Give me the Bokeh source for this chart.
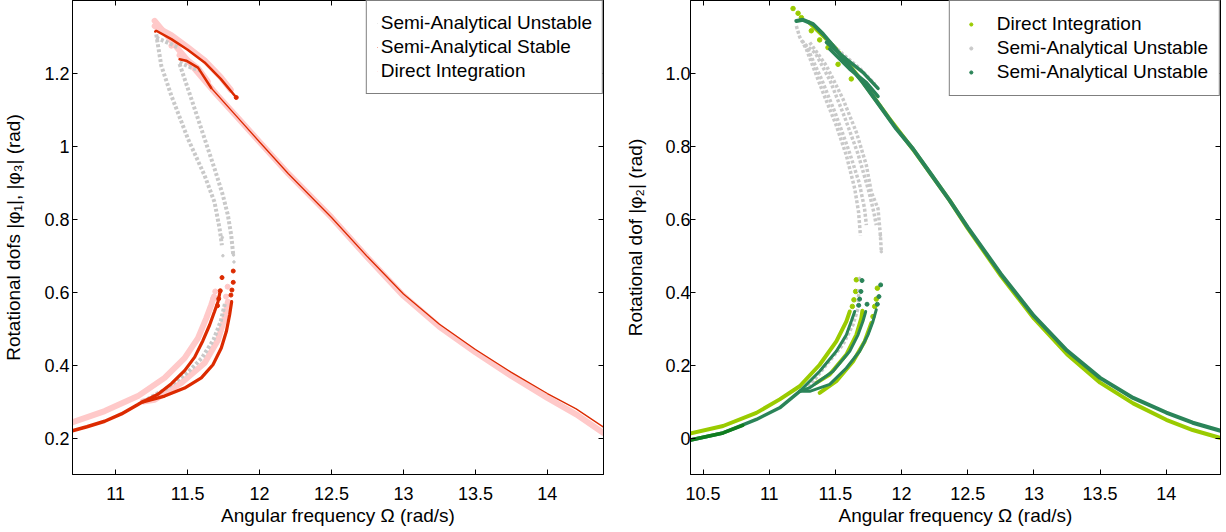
from bokeh.plotting import figure
from bokeh.layouts import row
from bokeh.models import FixedTicker, LinearAxis, Legend, LegendItem, Range1d, CustomLabelingPolicy
from bokeh.embed import file_html
from bokeh.resources import INLINE

FONT = "Liberation Sans"
PINK = "#ffc9c9"
RED = "#dc2a00"
GRAY = "#c9c9c9"
LGREEN = "#9acb00"
DGREEN = "#2a8458"
DKGREEN = "#0f7d1e"

# ---------------- Left panel data (|phi1|, |phi3|) ----------------
L_xticks = [11, 11.5, 12, 12.5, 13, 13.5, 14]
L_xlabels = ["11", "11.5", "12", "12.5", "13", "13.5", "14"]
L_yticks = [0.2, 0.4, 0.6, 0.8, 1.0, 1.2]
L_ylabels = ["0.2", "0.4", "0.6", "0.8", "1", "1.2"]

L_pink_main_x = [11.271, 11.40, 11.55, 11.70, 11.85, 12.0, 12.2, 12.5, 12.75, 13.0, 13.25, 13.5, 13.75, 14.0, 14.2, 14.39]
L_pink_main_y = [1.344, 1.283, 1.212, 1.143, 1.078, 1.012, 0.925, 0.805, 0.695, 0.59, 0.505, 0.435, 0.37, 0.31, 0.265, 0.214]
L_pink_a_x = [11.271, 11.387, 11.50, 11.618, 11.73, 11.80]
L_pink_a_y = [1.33, 1.305, 1.272, 1.236, 1.19, 1.155]
L_pink_b_x = [11.444, 11.50, 11.572, 11.64]
L_pink_b_y = [1.25, 1.236, 1.214, 1.178]
L_pink_lo_x = [10.692, 10.924, 11.155, 11.34, 11.479, 11.572, 11.63, 11.664, 11.683]
L_pink_lo_y = [0.242, 0.274, 0.315, 0.365, 0.419, 0.474, 0.529, 0.565, 0.588]
L_pink_lo2_x = [11.19, 11.271, 11.456, 11.618, 11.711, 11.757, 11.78]
L_pink_lo2_y = [0.30, 0.305, 0.351, 0.406, 0.469, 0.529, 0.574]
L_pink_dot_x = [11.678, 11.692, 11.767, 11.778, 11.387]
L_pink_dot_y = [0.582, 0.602, 0.588, 0.615, 1.276]

L_red_main_x = [11.664, 11.85, 12.0, 12.2, 12.5, 12.75, 13.0, 13.25, 13.5, 13.75, 14.0, 14.2, 14.39]
L_red_main_y = [1.16, 1.078, 1.012, 0.925, 0.805, 0.697, 0.595, 0.512, 0.443, 0.38, 0.322, 0.28, 0.23]
L_red_a_x = [11.275, 11.282, 11.387, 11.50, 11.618, 11.73, 11.838]
L_red_a_y = [1.315, 1.317, 1.294, 1.265, 1.23, 1.185, 1.134]
L_red_b_x = [11.444, 11.49, 11.572, 11.664]
L_red_b_y = [1.239, 1.235, 1.216, 1.16]
L_red_lo_x = [10.692, 10.80, 10.924, 11.04, 11.155, 11.19]
L_red_lo_y = [0.219, 0.231, 0.246, 0.266, 0.292, 0.30]
L_red_loa_x = [11.19, 11.294, 11.387, 11.479, 11.549, 11.606, 11.653, 11.687, 11.711, 11.727]
L_red_loa_y = [0.30, 0.32, 0.349, 0.385, 0.422, 0.467, 0.51, 0.547, 0.574, 0.604]
L_red_lob_x = [11.19, 11.34, 11.479, 11.595, 11.676, 11.734, 11.769, 11.792, 11.806]
L_red_lob_y = [0.299, 0.315, 0.337, 0.365, 0.401, 0.447, 0.492, 0.538, 0.574]
L_red_dot_x = [11.708, 11.716, 11.727, 11.739, 11.801, 11.808, 11.817, 11.817, 11.838]
L_red_dot_y = [0.563, 0.582, 0.604, 0.640, 0.592, 0.606, 0.627, 0.658, 1.134]

L_gray_a_x = [11.282, 11.317, 11.387, 11.502, 11.618, 11.687, 11.722, 11.738]
L_gray_a_y = [1.307, 1.221, 1.139, 1.021, 0.920, 0.847, 0.775, 0.729]
L_gray_arc_a_x = [11.282, 11.34, 11.387, 11.433]
L_gray_arc_a_y = [1.298, 1.288, 1.28, 1.271]
L_gray_b_x = [11.444, 11.479, 11.549, 11.618, 11.687, 11.745, 11.780, 11.803, 11.817]
L_gray_b_y = [1.226, 1.185, 1.103, 1.021, 0.939, 0.866, 0.811, 0.756, 0.702]
L_gray_arc_b_x = [11.444, 11.525, 11.595]
L_gray_arc_b_y = [1.23, 1.216, 1.207]
L_gray_lo_x = [11.19, 11.35, 11.50, 11.60, 11.68, 11.73, 11.76]
L_gray_lo_y = [0.300, 0.335, 0.38, 0.42, 0.47, 0.52, 0.57]
L_gray_dot_x = [11.741, 11.745, 11.819, 11.822]
L_gray_dot_y = [0.75, 0.70, 0.702, 0.683]

# ---------------- Right panel data (|phi2|) ----------------
R_xticks = [10.5, 11, 11.5, 12, 12.5, 13, 13.5, 14]
R_xlabels = ["10.5", "11", "11.5", "12", "12.5", "13", "13.5", "14"]
R_yticks = [0, 0.2, 0.4, 0.6, 0.8, 1.0]
R_ylabels = ["0", "0.2", "0.4", "0.6", "0.8", "1.0"]

R_lg_main_x = [11.3, 11.5, 11.7, 11.9, 12.1, 12.363, 12.5, 12.75, 13.0, 13.25, 13.5, 13.75, 14.0, 14.2, 14.41]
R_lg_main_y = [1.14, 1.07, 0.98, 0.88, 0.785, 0.652, 0.575, 0.445, 0.328, 0.23, 0.152, 0.095, 0.05, 0.022, 0.0]
R_lg_lo_x = [10.399, 10.651, 10.903, 11.079, 11.23, 11.381, 11.507, 11.583, 11.608]
R_lg_lo_y = [0.012, 0.033, 0.069, 0.106, 0.142, 0.201, 0.265, 0.32, 0.347]
R_lg2_x = [11.35, 11.457, 11.583, 11.658, 11.696, 11.704]
R_lg2_y = [0.15, 0.174, 0.229, 0.283, 0.329, 0.349]
R_lg3_x = [11.381, 11.507, 11.633, 11.721, 11.771]
R_lg3_y = [0.124, 0.156, 0.21, 0.265, 0.315]
R_lg_dot_x = [11.628, 11.64, 11.653, 11.658, 11.784, 11.797, 11.809, 11.817,
              11.18, 11.218, 11.243, 11.318, 11.381, 11.444, 11.52, 11.62]
R_lg_dot_y = [0.361, 0.379, 0.402, 0.434, 0.333, 0.361, 0.381, 0.411,
              1.178, 1.165, 1.153, 1.117, 1.092, 1.071, 1.025, 0.985]

R_g1_x = [11.205, 11.23, 11.28, 11.406, 11.507, 11.583, 11.646, 11.675, 11.689]
R_g1_y = [1.13, 1.10, 1.067, 0.948, 0.857, 0.775, 0.684, 0.62, 0.556]
R_g2_x = [11.25, 11.30, 11.40, 11.50, 11.60, 11.68, 11.72, 11.734]
R_g2_y = [1.09, 1.06, 0.98, 0.89, 0.79, 0.70, 0.63, 0.584]
R_g3_x = [11.27, 11.35, 11.46, 11.57, 11.67, 11.75, 11.79, 11.809]
R_g3_y = [1.08, 1.055, 0.98, 0.88, 0.78, 0.68, 0.62, 0.584]
R_g4_x = [11.306, 11.432, 11.557, 11.658, 11.734, 11.771, 11.822, 11.84, 11.847]
R_g4_y = [1.085, 1.021, 0.93, 0.839, 0.748, 0.675, 0.629, 0.556, 0.511]
R_g_up_x = [11.43, 11.55, 11.68, 11.80]
R_g_up_y = [1.095, 1.055, 1.015, 0.97]
R_g_lo_x = [11.30, 11.432, 11.557, 11.633, 11.671, 11.678]
R_g_lo_y = [0.14, 0.201, 0.256, 0.311, 0.356, 0.411]
R_g_dot_x = [11.683, 11.847, 11.84]
R_g_dot_y = [0.438, 0.511, 0.556]

R_dg_main_x = [11.205, 11.255, 11.331, 11.406, 11.482, 11.583, 11.708, 11.834, 11.96, 12.086, 12.212, 12.363,
               12.5, 12.75, 13.0, 13.25, 13.5, 13.75, 14.0, 14.2, 14.41]
R_dg_main_y = [1.144, 1.147, 1.135, 1.108, 1.076, 1.03, 0.975, 0.912, 0.848, 0.793, 0.729, 0.652,
               0.578, 0.45, 0.335, 0.24, 0.165, 0.11, 0.07, 0.042, 0.02]
R_dg_sub1_x = [11.432, 11.583, 11.708, 11.822]
R_dg_sub1_y = [1.085, 1.039, 1.003, 0.959]
R_dg_sub2_x = [11.457, 11.608, 11.734, 11.822]
R_dg_sub2_y = [1.067, 1.012, 0.975, 0.937]
R_dg_lo_x = [10.399, 10.651, 10.903, 11.079, 11.23]
R_dg_lo_y = [-0.006, 0.014, 0.051, 0.083, 0.128]
R_dk_lo_x = [10.399, 10.651, 10.8]
R_dk_lo_y = [-0.006, 0.014, 0.035]
R_dg1_x = [11.23, 11.381, 11.507, 11.583, 11.62, 11.646]
R_dg1_y = [0.128, 0.183, 0.238, 0.283, 0.32, 0.347]
R_dg2_x = [11.23, 11.306, 11.482, 11.608, 11.671, 11.708, 11.729]
R_dg2_y = [0.128, 0.138, 0.183, 0.238, 0.283, 0.32, 0.347]
R_dg3_x = [11.23, 11.306, 11.457, 11.583, 11.683, 11.746, 11.784, 11.809]
R_dg3_y = [0.128, 0.128, 0.147, 0.192, 0.238, 0.283, 0.32, 0.352]
R_dg_dot_x = [11.676, 11.683, 11.693, 11.701, 11.739, 11.817, 11.829, 11.842]
R_dg_dot_y = [0.364, 0.381, 0.402, 0.432, 0.367, 0.367, 0.388, 0.42]

NO_LABELS = "return new indices.constructor(indices.size)"


def style_axis(ax, ticks, labels, show=True):
    ax.ticker = FixedTicker(ticks=ticks, minor_ticks=[])
    ax.major_label_overrides = {t: l for t, l in zip(ticks, labels)}
    ax.major_tick_in = 5
    ax.major_tick_out = 0
    ax.minor_tick_in = 0
    ax.minor_tick_out = 0
    ax.axis_line_color = "black"
    ax.major_tick_line_color = "black"
    ax.major_label_text_font = FONT
    ax.major_label_text_color = "black"
    ax.major_label_text_font_size = "18px" if show else "0px"
    ax.axis_label_text_font = FONT
    ax.axis_label_text_font_size = "19px"
    ax.axis_label_text_font_style = "normal"
    ax.axis_label_text_color = "black"
    if not show:
        ax.major_label_standoff = 0
        ax.major_label_policy = CustomLabelingPolicy(code=NO_LABELS)


def make_fig(xr, yr, xt, xl, yt, yl, ylabel, bl, br, fw, ystand, ylabstand):
    p = figure(x_range=Range1d(*xr), y_range=Range1d(*yr), frame_width=fw,
               frame_height=474, min_border_left=bl, min_border_right=br, min_border_top=0,
               min_border_bottom=48, output_backend="svg", toolbar_location=None,
               background_fill_color="white", border_fill_color="white")
    p.xgrid.visible = False
    p.ygrid.visible = False
    p.outline_line_color = "black"
    style_axis(p.xaxis[0], xt, xl)
    style_axis(p.yaxis[0], yt, yl)
    p.xaxis[0].axis_label = "Angular frequency Ω (rad/s)"
    p.xaxis[0].major_label_standoff = 12
    p.xaxis[0].axis_label_standoff = 2
    p.yaxis[0].axis_label = ylabel
    p.yaxis[0].major_label_standoff = ystand
    p.yaxis[0].axis_label_standoff = ylabstand
    top = LinearAxis()
    style_axis(top, xt, xl, show=False)
    p.add_layout(top, "above")
    right = LinearAxis()
    style_axis(right, yt, yl, show=False)
    p.add_layout(right, "right")
    return p


# ---------------- Left figure ----------------
p1 = make_fig((10.7, 14.39), (0.1, 1.4), L_xticks, L_xlabels, L_yticks, L_ylabels,
              "Rotational dofs |φ₁|, |φ₃| (rad)", 69, 12, 531, 3, 17)

for xs, ys in [(L_pink_main_x, L_pink_main_y), (L_pink_a_x, L_pink_a_y), (L_pink_b_x, L_pink_b_y),
               (L_pink_lo_x, L_pink_lo_y), (L_pink_lo2_x, L_pink_lo2_y)]:
    p1.line(xs, ys, line_color=PINK, line_width=6, line_cap="round")
r_pink = p1.scatter(L_pink_dot_x, L_pink_dot_y, size=5, color=PINK)

for xs, ys in [(L_gray_a_x, L_gray_a_y), (L_gray_arc_a_x, L_gray_arc_a_y), (L_gray_b_x, L_gray_b_y),
               (L_gray_arc_b_x, L_gray_arc_b_y), (L_gray_lo_x, L_gray_lo_y)]:
    p1.line(xs, ys, line_color=GRAY, line_width=4, line_dash="3 2")
r_gray = p1.scatter(L_gray_dot_x, L_gray_dot_y, size=2.5, color=GRAY)

for xs, ys, w in [(L_red_main_x, L_red_main_y, 1.3), (L_red_a_x, L_red_a_y, 2.5), (L_red_b_x, L_red_b_y, 2.5),
                  (L_red_lo_x, L_red_lo_y, 3.5), (L_red_loa_x, L_red_loa_y, 3.2), (L_red_lob_x, L_red_lob_y, 3.2)]:
    p1.line(xs, ys, line_color=RED, line_width=w, line_cap="round")
r_red = p1.scatter(L_red_dot_x, L_red_dot_y, size=4, color=RED)

leg1 = Legend(items=[LegendItem(label="Semi-Analytical Unstable", renderers=[r_gray]),
                     LegendItem(label="Semi-Analytical Stable", renderers=[r_red]),
                     LegendItem(label="Direct Integration", renderers=[r_pink])],
              location="top_right", margin=0, padding=10, spacing=0, glyph_width=1, glyph_height=1,
              label_standoff=3, label_height=24, label_text_font=FONT, label_text_font_size="19px",
              label_text_color="black", border_line_color="black", border_line_width=1,
              background_fill_color="white", background_fill_alpha=1)
p1.add_layout(leg1)

# ---------------- Right figure ----------------
p2 = make_fig((10.405, 14.41), (-0.1, 1.2), R_xticks, R_xlabels, R_yticks, R_ylabels,
              "Rotational dof |φ₂| (rad)", 75, 3, 530, 0, 16)

for xs, ys in [(R_lg_main_x, R_lg_main_y), (R_lg_lo_x, R_lg_lo_y), (R_lg2_x, R_lg2_y), (R_lg3_x, R_lg3_y)]:
    p2.line(xs, ys, line_color=LGREEN, line_width=4, line_cap="round")
r_lg = p2.scatter(R_lg_dot_x, R_lg_dot_y, size=4.5, color=LGREEN)

for xs, ys in [(R_g1_x, R_g1_y), (R_g2_x, R_g2_y), (R_g3_x, R_g3_y), (R_g4_x, R_g4_y),
               (R_g_up_x, R_g_up_y), (R_g_lo_x, R_g_lo_y)]:
    p2.line(xs, ys, line_color=GRAY, line_width=3.5, line_dash="3 2")
r_g = p2.scatter(R_g_dot_x, R_g_dot_y, size=2.5, color=GRAY)

for xs, ys, w in [(R_dg_main_x, R_dg_main_y, 4), (R_dg_sub1_x, R_dg_sub1_y, 3.5), (R_dg_sub2_x, R_dg_sub2_y, 3.5),
                  (R_dg_lo_x, R_dg_lo_y, 3.5), (R_dg1_x, R_dg1_y, 3), (R_dg2_x, R_dg2_y, 3), (R_dg3_x, R_dg3_y, 3)]:
    p2.line(xs, ys, line_color=DGREEN, line_width=w, line_cap="round")
p2.line(R_dk_lo_x, R_dk_lo_y, line_color=DKGREEN, line_width=3.5, line_cap="round")
r_dg = p2.scatter(R_dg_dot_x, R_dg_dot_y, size=4, color=DGREEN)

leg2 = Legend(items=[LegendItem(label="Direct Integration", renderers=[r_lg]),
                     LegendItem(label="Semi-Analytical Unstable", renderers=[r_g]),
                     LegendItem(label="Semi-Analytical Unstable", renderers=[r_dg])],
              location="top_right", margin=0, padding=11, spacing=0, glyph_width=20, glyph_height=8,
              label_standoff=16, label_height=24, label_text_font=FONT, label_text_font_size="19px",
              label_text_color="black", border_line_color="black", border_line_width=1,
              background_fill_color="white", background_fill_alpha=1)
p2.add_layout(leg2)

layout = row(p1, p2)
open("out.html", "w").write(file_html(layout, INLINE))
